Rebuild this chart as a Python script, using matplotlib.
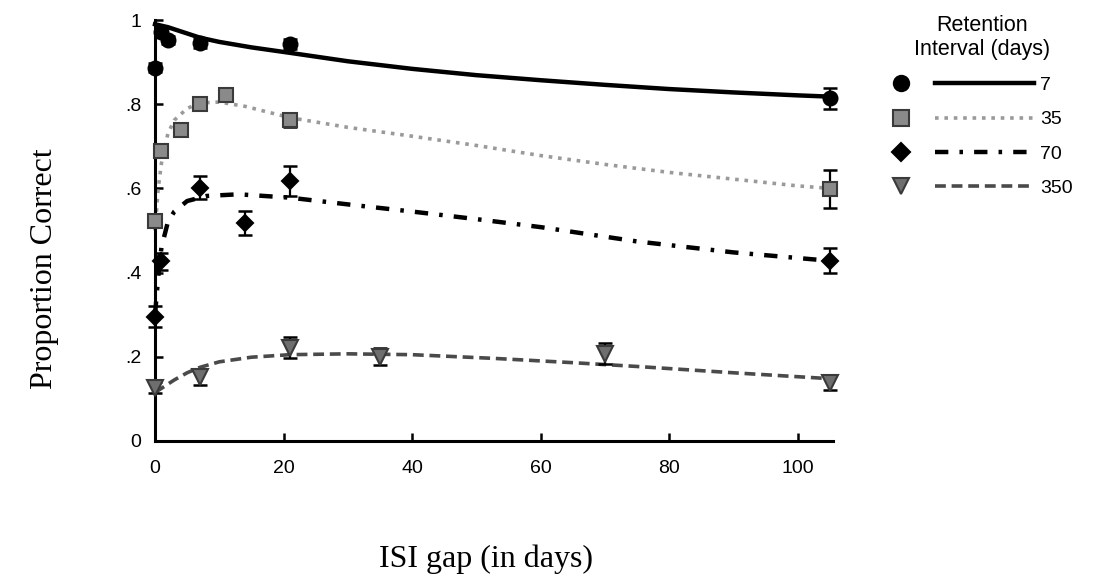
import matplotlib
matplotlib.use("Agg")
import matplotlib.pyplot as plt
from matplotlib.lines import Line2D
from matplotlib.legend_handler import HandlerBase

# observed means (proportion correct) by ISI gap, one list per retention interval
isi7 = [0, 1, 2, 7, 21, 105]
pc7 = [0.887, 0.971, 0.953, 0.945, 0.942, 0.814]
err7 = [0.01, 0.01, 0.01, 0.012, 0.012, 0.025]

isi35 = [0, 1, 4, 7, 11, 21, 105]
pc35 = [0.523, 0.69, 0.738, 0.80, 0.822, 0.762, 0.598]
err35 = [0.01, 0.012, 0.012, 0.012, 0.012, 0.015, 0.045]

isi70 = [0, 1, 7, 14, 21, 105]
pc70 = [0.295, 0.427, 0.602, 0.518, 0.618, 0.428]
err70 = [0.025, 0.02, 0.028, 0.028, 0.035, 0.03]

isi350 = [0, 7, 21, 35, 70, 105]
pc350 = [0.127, 0.152, 0.222, 0.200, 0.207, 0.138]
err350 = [0.012, 0.02, 0.025, 0.02, 0.025, 0.018]

# fitted curves
fx7 = [0, 2, 5, 7, 10, 15, 21, 30, 40, 50, 60, 70, 80, 90, 100, 105]
fy7 = [0.99, 0.983, 0.968, 0.958, 0.948, 0.935, 0.922, 0.902, 0.884, 0.869,
       0.857, 0.846, 0.836, 0.828, 0.821, 0.818]
fx35 = [0, 0.5, 1, 2, 3, 5, 7, 10, 14, 21, 30, 40, 50, 60, 70, 80, 90, 100, 105]
fy35 = [0.50, 0.60, 0.66, 0.73, 0.762, 0.79, 0.803, 0.805, 0.795, 0.768, 0.745,
        0.724, 0.702, 0.678, 0.657, 0.638, 0.622, 0.606, 0.60]
fx70 = [0, 0.5, 1, 2, 3, 5, 8, 13, 21, 30, 40, 50, 60, 75, 90, 105]
fy70 = [0.30, 0.39, 0.46, 0.52, 0.545, 0.57, 0.582, 0.586, 0.578, 0.562, 0.545,
        0.527, 0.508, 0.474, 0.448, 0.428]
fx350 = [0, 1, 3, 5, 7, 10, 15, 21, 30, 40, 53, 65, 75, 90, 105]
fy350 = [0.115, 0.125, 0.145, 0.162, 0.175, 0.188, 0.199, 0.205, 0.207, 0.205,
         0.196, 0.186, 0.177, 0.162, 0.148]

labels = ["7", "35", "70", "350"]


class MarkerThenLine(HandlerBase):
    """legend entry: marker on the left, line sample to the right"""
    def create_artists(self, legend, orig, xdescent, ydescent, width, height,
                       fontsize, trans):
        mk, ln = orig
        y = height / 2 - ydescent
        m = Line2D([-xdescent + 0.07 * width], [y], linestyle="none",
                   marker=mk.get_marker(), markersize=mk.get_markersize() * 1.1,
                   markerfacecolor=mk.get_markerfacecolor(),
                   markeredgecolor=mk.get_markeredgecolor(),
                   markeredgewidth=mk.get_markeredgewidth())
        l = Line2D([-xdescent + 0.31 * width, -xdescent + width], [y, y],
                   color=ln.get_color(), linewidth=ln.get_linewidth(),
                   linestyle=ln.get_linestyle())
        dash = ln._unscaled_dash_pattern[1]
        if dash:
            l.set_dashes(dash)
        m.set_transform(trans)
        l.set_transform(trans)
        return [l, m]


fig = plt.figure(figsize=(10.94, 5.8), dpi=100)
ax = fig.add_axes([0.1417, 0.2397, 0.6197, 0.7258])

styles = [
    dict(marker="o", mfc="black", mec="black", ms=10, color="black", lw=3.2, ls="-", dashes=None),
    dict(marker="s", mfc="#8a8a8a", mec="#3a3a3a", ms=10, color="#9a9a9a", lw=2.6, ls=":", dashes=(1, 1.6)),
    dict(marker="D", mfc="black", mec="black", ms=8, color="black", lw=3.2, ls="-.", dashes=(3, 2.5, 0.8, 2.5)),
    dict(marker="v", mfc="#6e6e6e", mec="#3a3a3a", ms=11, color="#4a4a4a", lw=2.6, ls="--", dashes=(3, 1.6)),
]
obs = [(isi7, pc7, err7), (isi35, pc35, err35), (isi70, pc70, err70), (isi350, pc350, err350)]
fits = [(fx7, fy7), (fx35, fy35), (fx70, fy70), (fx350, fy350)]

handles = []
for (xo, yo, eo), (xf, yf), st in zip(obs, fits, styles):
    ln, = ax.plot(xf, yf, color=st["color"], lw=st["lw"], ls=st["ls"], zorder=2,
                  clip_on=False)
    if st["dashes"]:
        ln.set_dashes(st["dashes"])
    ax.errorbar(xo, yo, yerr=eo, fmt="none", ecolor="black", elinewidth=1.6,
                capsize=5, capthick=1.8, zorder=3, clip_on=False)
    mk, = ax.plot(xo, yo, ls="none", marker=st["marker"], ms=st["ms"],
                  mfc=st["mfc"], mec=st["mec"], mew=1.5, zorder=4, clip_on=False)
    handles.append((mk, ln))

ax.set_xlim(0, 105.5)
ax.set_ylim(0, 1.0)
ax.set_xticks([0, 20, 40, 60, 80, 100])
ax.set_yticks([0, 0.2, 0.4, 0.6, 0.8, 1.0])
ax.set_yticklabels(["0", ".2", ".4", ".6", ".8", "1"])
for s in ["top", "right"]:
    ax.spines[s].set_visible(False)
for s in ["left", "bottom"]:
    ax.spines[s].set_linewidth(2.2)
ax.tick_params(direction="in", length=6, width=1.8, labelsize=14)
ax.tick_params(axis="x", pad=14)
ax.tick_params(axis="y", pad=10)
for t in ax.get_xticklabels() + ax.get_yticklabels():
    t.set_family("Liberation Sans")

ax.set_ylabel("Proportion Correct", family="Liberation Serif", fontsize=23)
ax.set_xlabel("ISI gap (in days)", family="Liberation Serif", fontsize=23)
ax.yaxis.set_label_coords(-0.141, 0.41)
ax.xaxis.set_label_coords(0.488, -0.247)

leg = ax.legend(handles, labels, handler_map={tuple: MarkerThenLine()},
                loc="upper left", bbox_to_anchor=(0.798, 1.005),
                bbox_transform=fig.transFigure, frameon=False,
                title="Retention\nInterval (days)", handlelength=7.4,
                handletextpad=0.3, labelspacing=0.86,
                title_fontsize=15.5, prop={"family": "Liberation Sans", "size": 14})
leg.get_title().set_family("Liberation Sans")
leg.get_title().set_multialignment("center")

fig.savefig("out.png", dpi=100, facecolor="white")
